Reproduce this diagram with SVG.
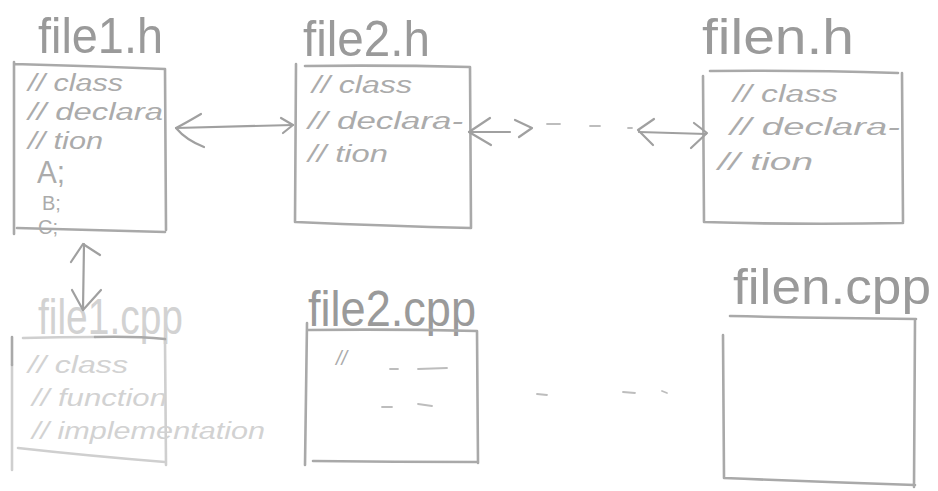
<svg xmlns="http://www.w3.org/2000/svg" width="938" height="491" viewBox="0 0 938 491">
<style>
.bg{fill:#ffffff}
.box{fill:none;stroke:#a9a9a9;stroke-width:2.6;stroke-linecap:round;stroke-linejoin:round}
.faint{stroke:#cfcfcf}
.title{font-family:"Liberation Sans","DejaVu Sans",sans-serif;font-size:50px;fill:#9a9a9a}
.body{font-family:"Liberation Sans","DejaVu Sans",sans-serif;font-style:italic;font-size:23px;fill:#ababab}
.light{fill:#d2d2d2}
.con{fill:none;stroke:#a0a0a0;stroke-width:2.2;stroke-linecap:round;stroke-linejoin:round}
.dash{fill:none;stroke:#bdbdbd;stroke-width:1.8;stroke-linecap:round}
</style>
<rect class="bg" x="0" y="0" width="938" height="491"/>

<g id="file1_h">
  <text class="title" x="38" y="53" textLength="125" lengthAdjust="spacingAndGlyphs">file1.h</text>
  <path class="box" d="M14,62 L14,234 M14,64 Q90,66 165,69 M165,69 L166,230 M17,228 Q90,230 165,232"/>
  <text class="body" x="28" y="91" textLength="95" lengthAdjust="spacingAndGlyphs">// class</text>
  <text class="body" x="28" y="120" textLength="135" lengthAdjust="spacingAndGlyphs">// declara</text>
  <text class="body" x="28" y="149" textLength="75" lengthAdjust="spacingAndGlyphs">// tion</text>
  <text class="body" x="37" y="183" style="font-size:32px;font-style:normal" textLength="28" lengthAdjust="spacingAndGlyphs">A;</text>
  <text class="body" x="42" y="210" style="font-size:20px;font-style:normal">B;</text>
  <text class="body" x="38" y="234" style="font-size:20px;font-style:normal">C;</text>
</g>

<g id="file2_h">
  <text class="title" x="303" y="56" textLength="127" lengthAdjust="spacingAndGlyphs">file2.h</text>
  <path class="box" d="M296,64 L295,222 M305,66 Q390,65 470,67 M470,67 L471,228 M296,222 Q390,226 471,228"/>
  <text class="body" x="312" y="93" textLength="100" lengthAdjust="spacingAndGlyphs">// class</text>
  <text class="body" x="308" y="129" textLength="155" lengthAdjust="spacingAndGlyphs">// declara-</text>
  <text class="body" x="308" y="162" textLength="80" lengthAdjust="spacingAndGlyphs">// tion</text>
</g>

<g id="filen_h">
  <text class="title" x="702" y="54" textLength="152" lengthAdjust="spacingAndGlyphs">filen.h</text>
  <path class="box" d="M703,76 L704,222 M710,71 Q800,70 898,73 M902,73 L903,222 M704,222 Q800,225 903,223"/>
  <text class="body" x="733" y="102" textLength="105" lengthAdjust="spacingAndGlyphs">// class</text>
  <text class="body" x="730" y="135" textLength="170" lengthAdjust="spacingAndGlyphs">// declara-</text>
  <text class="body" x="718" y="170" textLength="95" lengthAdjust="spacingAndGlyphs">// tion</text>
</g>

<g id="file1_cpp">
  <text class="title light" x="38" y="334" textLength="145" lengthAdjust="spacingAndGlyphs">file1.cpp</text>
  <path class="box faint" d="M23,338 Q60,337 95,337 M12,365 L12,470 M165,340 L166,465 M18,448 Q90,456 165,462"/>
  <path class="box" d="M95,337 Q135,336 165,339 M12,337 L12,365"/>
  <text class="body light" x="28" y="373" textLength="100" lengthAdjust="spacingAndGlyphs">// class</text>
  <text class="body light" x="32" y="406" textLength="135" lengthAdjust="spacingAndGlyphs">// function</text>
  <text class="body light" x="32" y="439" textLength="233" lengthAdjust="spacingAndGlyphs">// implementation</text>
</g>

<g id="file2_cpp">
  <text class="title" x="308" y="326" textLength="168" lengthAdjust="spacingAndGlyphs">file2.cpp</text>
  <path class="box" d="M307,323 L305,465 M308,330 Q395,329 477,331 M477,331 L478,463 M313,461 Q395,462 477,462"/>
  <text class="body" x="336" y="365" style="font-size:20px">//</text>
  <path class="dash" d="M390,369 L398,369 M418,369 L447,368 M382,407 L392,407 M418,404 L432,406"/>
</g>

<g id="filen_cpp">
  <text class="title" x="733" y="304" textLength="198" lengthAdjust="spacingAndGlyphs">filen.cpp</text>
  <path class="box" d="M730,316 Q820,318 916,319 M723,335 L724,478 M915,320 L914,487 M724,478 Q820,482 915,485"/>
</g>

<g id="connectors">
  <path class="con" d="M176,128 L293,125"/>
  <path class="con" d="M201,114 Q184,124 176,128 Q186,140 204,147"/>
  <path class="con" d="M281,118 L293,125 L283,133"/>
  <path class="con" d="M469,132 L510,132"/>
  <path class="con" d="M490,118 L469,132 L491,145"/>
  <path class="con" d="M515,120 L532,128 L519,137"/>
  <path class="dash" d="M547,124 L560,124 M590,126 L600,126 M628,128 L632,128"/>
  <path class="con" d="M639,132 L706,134"/>
  <path class="con" d="M654,119 L638,130 L653,145"/>
  <path class="con" d="M694,123 L707,133 L691,148"/>
  <path class="con" d="M84,244 L83,310"/>
  <path class="con" d="M71,262 L83,244 L100,255"/>
  <path class="con faint" d="M72,290 L83,310 L101,290"/>
  <path class="dash" d="M537,394 L547,395 M623,392 L635,393 M662,391 L667,393"/>
</g>
</svg>
